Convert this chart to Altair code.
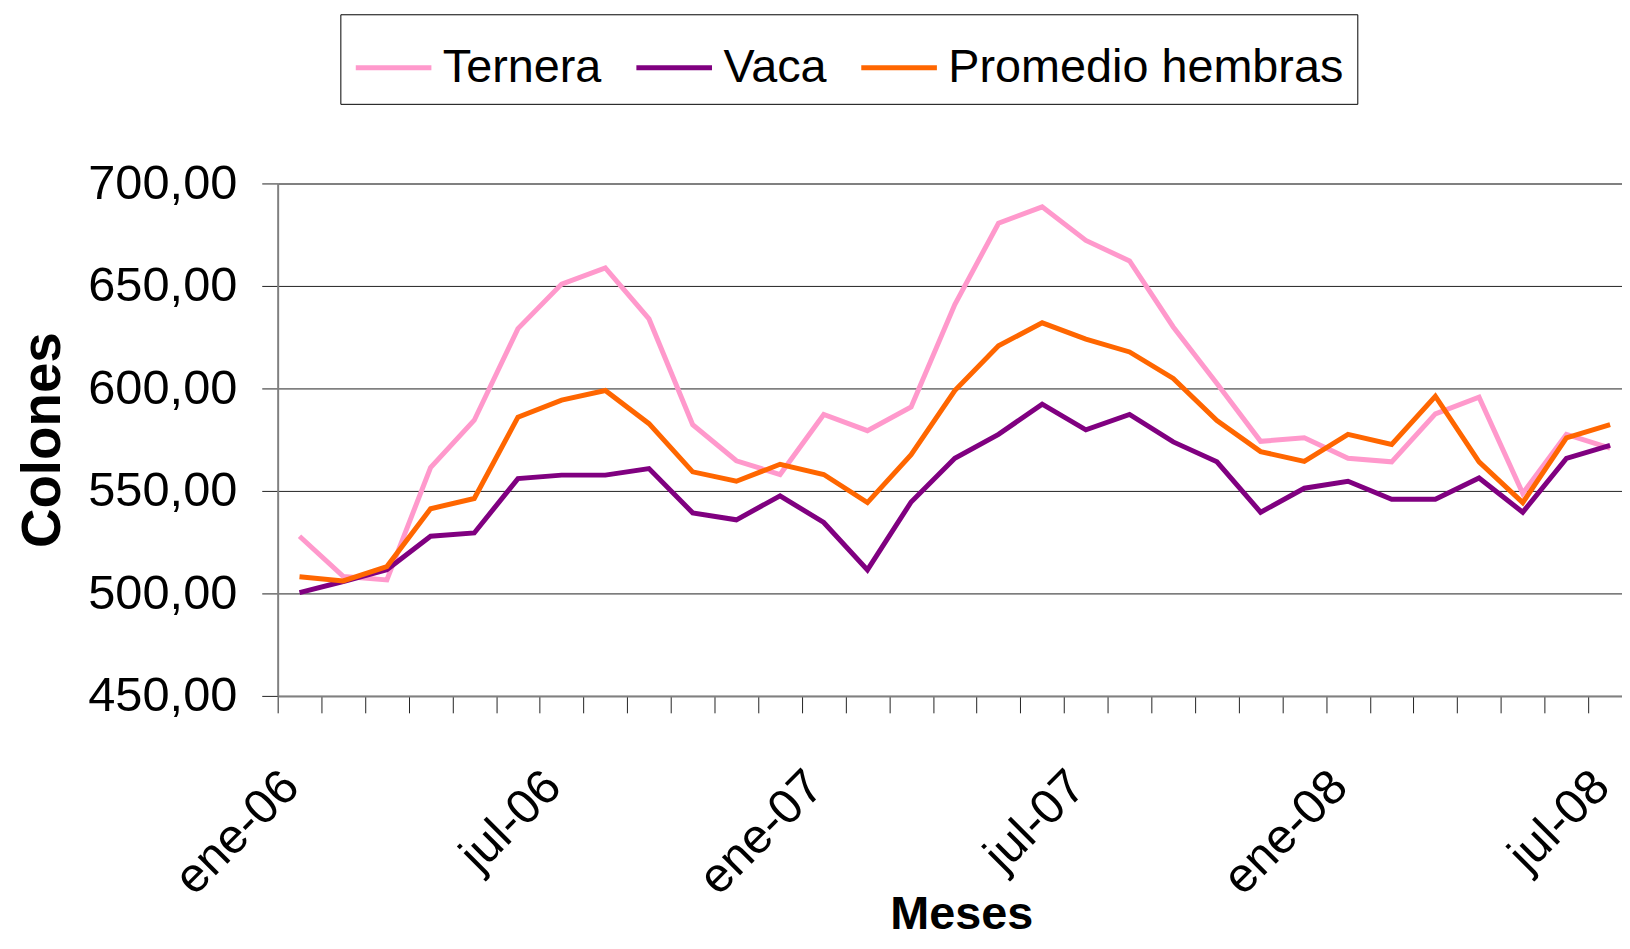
import json
import altair as alt
import pandas as pd

# ---------------- data ----------------
months = [
    "ene-06", "feb-06", "mar-06", "abr-06", "may-06", "jun-06",
    "jul-06", "ago-06", "sep-06", "oct-06", "nov-06", "dic-06",
    "ene-07", "feb-07", "mar-07", "abr-07", "may-07", "jun-07",
    "jul-07", "ago-07", "sep-07", "oct-07", "nov-07", "dic-07",
    "ene-08", "feb-08", "mar-08", "abr-08", "may-08", "jun-08",
    "jul-08",
]
ternera = [527.9, 508.3, 506.6, 561.4, 584.5, 629.2, 650.9, 658.8, 633.9, 582.3,
           564.7, 558.0, 587.3, 579.4, 591.0, 640.9, 680.6, 688.6, 672.2, 662.2,
           630.0, 602.4, 574.2, 575.9, 565.9, 564.2, 587.6, 595.7, 548.8, 577.6,
           570.9]
vaca = [500.4, 505.8, 511.5, 527.9, 529.5, 556.0, 557.7, 557.7, 560.9, 539.3,
        535.9, 547.6, 534.6, 511.5, 544.6, 565.9, 577.6, 592.3, 579.8, 587.3,
        573.9, 564.2, 539.6, 551.3, 554.7, 545.9, 545.9, 556.3, 539.6, 565.9,
        572.2]
promedio = [508.1, 506.1, 513.1, 541.3, 546.3, 586.0, 594.3, 599.0, 582.8, 559.3,
            554.7, 563.0, 558.0, 544.3, 567.7, 599.0, 620.8, 632.0, 624.1, 617.8,
            604.9, 584.3, 569.2, 564.4, 577.6, 572.7, 596.2, 564.2, 544.3, 575.9,
            582.3]
series_names = ["Ternera", "Vaca", "Promedio hembras"]
series_colors = ["#FF99CC", "#800080", "#FF6600"]
y_ticks = [450, 500, 550, 600, 650, 700]
x_label_months = ["ene-06", "jul-06", "ene-07", "jul-07", "ene-08", "jul-08"]

rows = []
for name, vals in zip(series_names, [ternera, vaca, promedio]):
    for m, v in zip(months, vals):
        rows.append({"mes": m, "serie": name, "valor": v})
df = pd.DataFrame(rows)

# ---------------- layout ----------------
W = 1351          # visible plot width
X_RANGE = 1361    # the category axis runs slightly past the window edge
H = 515
step = X_RANGE / len(months)

FONT = "Liberation Sans, Arial"

label_expr = "indexof(%s, datum.value) >= 0 ? datum.value : ''" % json.dumps(x_label_months)

x = alt.X(
    "mes:N",
    sort=months,
    scale=alt.Scale(type="point", padding=0.5, range=[0, X_RANGE]),
    axis=alt.Axis(
        title="Meses",
        labelExpr=label_expr,
        labelAngle=-45,
        labelAlign="right",
        labelBaseline="middle",
        labelFont=FONT,
        labelFontSize=49,
        labelColor="black",
        labelPadding=66,
        labelOffset=step / 2 - 9,
        tickOffset=-step / 2,
        tickSize=17,
        tickColor="#222222",
        tickWidth=1,
        domainColor="#808080",
        domainWidth=2,
        labelOverlap=False,
        grid=False,
        titleFont=FONT,
        titleFontSize=47,
        titleFontWeight="bold",
        titleColor="black",
        titleX=687,
        titleY=234,
        titleAlign="center",
        titleBaseline="alphabetic",
    ),
)

y = alt.Y(
    "valor:Q",
    scale=alt.Scale(domain=[450, 700], nice=False, zero=False),
    axis=alt.Axis(
        values=y_ticks,
        labelExpr="replace(format(datum.value, '.2f'), '.', ',')",
        labelFont=FONT,
        labelFontSize=49,
        labelColor="black",
        labelPadding=25,
        tickSize=16,
        tickColor="#222222",
        tickWidth=1,
        domainColor="#808080",
        domainWidth=2,
        grid=True,
        gridColor={"condition": {"test": "datum.value === 700", "value": "#808080"}, "value": "#222222"},
        gridWidth={"condition": {"test": "datum.value === 700", "value": 2}, "value": 1},
        title="Colones",
        titleFont=FONT,
        titleFontSize=55,
        titleFontWeight="bold",
        titleColor="black",
        titleAngle=-90,
        titleX=-219,
        titleY=H / 2,
        titleAlign="center",
        titleBaseline="alphabetic",
    ),
)

color = alt.Color(
    "serie:N",
    sort=series_names,
    scale=alt.Scale(domain=series_names, range=series_colors),
    legend=alt.Legend(
        title=None,
        orient="none",
        legendX=63,
        legendY=-170,
        direction="horizontal",
        symbolType="stroke",
        symbolSize=5776,
        symbolStrokeWidth=5,
        labelFont=FONT,
        labelFontSize=47,
        labelColor="black",
        labelOffset=9,
        labelLimit=1000,
        columnPadding=24,
        padding=13,
        strokeColor="black",
        fillColor="white",
    ),
)

chart = (
    alt.Chart(df)
    .mark_line(strokeWidth=5, strokeJoin="miter", clip=False)
    .encode(x=x, y=y, color=color)
    .properties(
        width=W,
        height=H,
        autosize=alt.AutoSizeParams(type="none"),
        padding={"left": 271, "top": 174, "right": 0, "bottom": 244},
        background="white",
    )
    .configure_view(stroke=None)
)

chart.save("out.html", embed_options={"renderer": "svg", "actions": False})
